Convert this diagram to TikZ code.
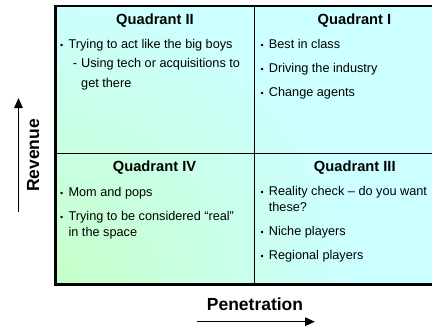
\documentclass[tikz,border=0pt]{standalone}
\usepackage{fontspec}
\setmainfont{Liberation Sans}
\usepackage{xcolor}
\usepackage{tikz}
\usetikzlibrary{arrows.meta,calc}
\usetikzlibrary{positioning}

\definecolor{quadcyan}{RGB}{204,255,255}
\definecolor{quadgreen}{RGB}{198,255,200}

% bullet and dash markers in front of each entry
\newcommand{\blt}{\makebox[8.4pt][l]{\fontsize{9}{9}\selectfont\textbullet}}
\newcommand{\subdash}{\makebox[8.3pt][l]{-}}

\tikzset{
    quadtitle/.style={anchor=base, inner sep=0pt, font=\bfseries\fontsize{14.7}{17}\selectfont},
    % base of a wrapped entry sits on its last line
    entry/.style={anchor=base west, inner sep=0pt, align=left, font=\fontsize{12.7}{16}\selectfont},
    axislabel/.style={inner sep=0pt, font=\bfseries\fontsize{17.5}{20}\selectfont},
    axisarrow/.style={line width=1.3pt, -{Triangle[length=10pt, width=8.5pt]}}
}

\begin{document}
\begin{tikzpicture}[x=1pt, y=-1pt]
    \useasboundingbox (0,0) rectangle (432,325);

    % Background of the four cells
    \begin{scope}
        \clip (55.5,6.3) rectangle (432,284.3);
        \fill[quadcyan] (55.5,6.3) rectangle (432,284.3);
        \shade[inner color=quadgreen, outer color=quadcyan] (55.5,284.3) circle [radius=290pt];
    \end{scope}

    % Frame and dividers
    \draw[line width=2pt] (55.5,6.3) -- (432,6.3);
    \draw[line width=2.6pt] (55.5,5.3) -- (55.5,285.8);
    \draw[line width=3pt] (54.2,284.3) -- (432,284.3);
    \draw[line width=1pt] (254.3,6.3) -- (254.3,284.3);
    \draw[line width=1pt] (55.5,153.3) -- (432,153.3);

    % Titles
    \node[quadtitle] (titleII) at (155,24) {Quadrant II};
    \node[quadtitle] (titleI) at (354.5,24) {Quadrant I};
    \node[quadtitle] (titleIV) at (154.5,171.5) {Quadrant IV};
    \node[quadtitle] (titleIII) at (354.8,171.5) {Quadrant III};

    % Quadrant II
    \node[entry] (bigboys) at (60,48) {\blt Trying to act like the big boys};
    \node[entry] (tech) at (72.7,87) {\subdash Using tech or acquisitions to\\[3.5pt]\hspace*{8.3pt}get there};

    % Quadrant I
    \node[entry] (best) at (260.3,48) {\blt Best in class};
    \node[entry] (driving) at (260.3,72.3) {\blt Driving the industry};
    \node[entry] (change) at (260.3,96) {\blt Change agents};

    % Quadrant IV
    \node[entry] (mom) at (60,196.7) {\blt Mom and pops};
    \node[entry] (real) at (60,236) {\blt Trying to be considered “real”\\\hspace*{8.4pt}in the space};

    % Quadrant III
    \node[entry] (reality) at (260.3,211.5) {\blt Reality check – do you want\\\hspace*{8.4pt}these?};
    \node[entry] (niche) at (260.3,235.7) {\blt Niche players};
    \node[entry] (regional) at (260.3,259) {\blt Regional players};

    % Axes
    \node[axislabel, rotate=90] (revenue) at (33.3,155.5) {Revenue};
    \node[axislabel] (penetration) at (255,303.8) {Penetration};
    \coordinate (revtail) at (18.5,212);
    \coordinate (revtip) at (18.5,98);
    \coordinate (pentail) at (196.7,321.7);
    \coordinate (pentip) at (315,321.7);
    \draw[axisarrow] (revtail) -- (revtip);
    \draw[axisarrow] (pentail) -- (pentip);
\end{tikzpicture}
\end{document}
